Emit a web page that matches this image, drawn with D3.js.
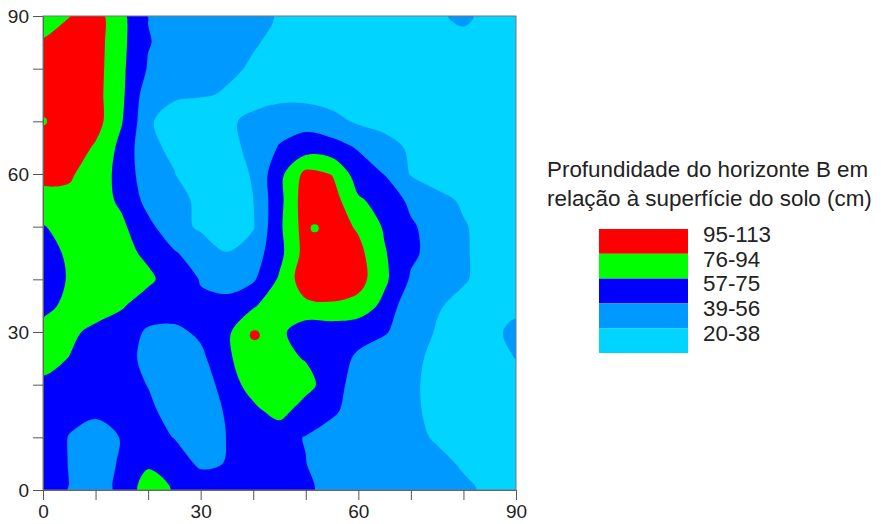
<!DOCTYPE html>
<html>
<head>
<meta charset="utf-8">
<script src="https://cdn.jsdelivr.net/npm/d3@7"></script>
<style>
  body { margin: 0; background: #fff; }
  text { font-family: "Liberation Sans", Arial, sans-serif; fill: #222; }
</style>
</head>
<body>
<svg id="chart" width="881" height="524"></svg>
<script>
// grid positions (m)
var gridX = [0, 5, 10, 15, 20, 25, 30, 35, 40, 45, 50, 55, 60, 65, 70, 75, 80, 85, 90];
var gridY = [90, 85, 80, 75, 70, 65, 60, 55, 50, 45, 40, 35, 30, 25, 20, 15, 10, 5, 0];

// depth of B horizon (cm), one row per gridY
var depthRows = [
  [86, 94, 102.6, 80, 56, 50, 47, 44, 41, 37.8, 33, 30, 28, 28, 30, 36.8, 41, 34.8, 30],
  [96, 103, 102.6, 80, 57.5, 50, 46, 43, 39.5, 36, 32, 28, 26, 25, 25, 28, 34.8, 32, 30],
  [100, 106, 102, 79, 55, 49, 45, 41, 37, 33, 28, 25, 24, 23, 23, 25, 28, 30, 30],
  [102, 107, 101, 79, 46, 43, 40, 37, 33, 34, 33, 31, 24, 22, 22, 23, 25, 28, 30],
  [101, 105, 102.2, 76.5, 42.7, 24, 24, 36, 42, 48, 50, 44, 36, 33, 36, 30, 27, 27, 28],
  [103, 106, 92, 70, 42, 35.5, 28, 33, 43, 58, 66, 64, 55, 45, 36, 30, 27, 26, 27],
  [98, 98, 82, 71.5, 43, 39, 26.5, 30, 40, 70, 100, 93.9, 66, 56, 37.4, 30, 27, 25, 26],
  [90, 88, 84, 72, 50.5, 44, 35, 30, 38.3, 70, 105, 103, 78, 68.4, 52.4, 44, 36, 30, 27],
  [74, 85, 86, 79, 61.2, 44.4, 36, 28, 37, 72, 103, 104, 92, 73.2, 59, 48.6, 40, 32, 27],
  [68, 78.5, 86, 84, 70, 58, 48, 39, 47, 70, 102, 106, 100, 77, 60, 49.4, 40.6, 31.8, 28],
  [66, 77, 86, 88, 81, 62, 56, 47, 54, 78, 106.4, 108, 102, 79.4, 54.4, 47, 40, 33, 29],
  [68, 82, 86, 78, 62.4, 67, 58, 64, 74, 84, 90, 92, 88, 70, 43, 40, 34, 30, 33],
  [84, 80, 70.2, 62, 55, 52, 60, 73, 88, 80, 64, 64, 62, 58, 48, 37, 30, 33, 44],
  [82, 75, 66, 60, 54, 46, 52, 72, 88, 82, 74, 64, 54, 47, 42, 35, 29, 30, 39],
  [72, 68, 66, 63, 56, 48, 47, 64, 85, 88, 84, 62, 51, 45, 41, 34, 28, 28, 30],
  [66, 60, 62, 64, 60, 50, 44, 58.9, 70, 84, 64, 59, 50, 45, 41, 35, 29, 27, 26],
  [64, 56, 44, 58, 62, 56, 44, 57, 64, 60, 56, 50, 46, 44, 42, 37, 30, 26, 25],
  [64, 56, 44, 60, 73, 64, 54, 57, 66, 64, 56.8, 49, 44, 45, 44, 42, 37, 30, 27],
  [62, 56, 46, 62, 85, 74, 66, 64, 66, 64, 60, 50, 40, 45, 44, 43, 41, 36, 30]
];

// classes, lowest first
var bandLabels = ["20-38", "39-56", "57-75", "76-94", "95-113"];
var thresholds = [0, 38.5, 56.5, 75.5, 94.5];

// isolated spots around sample points [x, y, class]
var spots = [[0, 70, "76-94"], [51.7, 49.7, "76-94"], [40.3, 29.4, "95-113"]];

var ticks = [0, 10, 20, 30, 40, 50, 60, 70, 80, 90];
var tickLabels = [0, 30, 60, 90];

var titleLines = ["Profundidade do horizonte B em", "relação à superfície do solo (cm)"];

var bandColors = ["#00d4ff", "#0099ff", "#0000ff", "#00ff00", "#ff0000"];
var color = d3.scaleOrdinal().domain(bandLabels).range(bandColors);

var svg = d3.select("#chart");

var x = d3.scaleLinear().domain([0, 90]).range([43, 516]);
var y = d3.scaleLinear().domain([0, 90]).range([490, 16]);

// contour bands
var values = [].concat.apply([], depthRows);
var contours = d3.contours()
    .size([gridX.length, gridY.length])
    .thresholds(thresholds)(values);

var step = gridX[1] - gridX[0];
function toPx(p) {
    return [x(gridX[0] + (p[0] - 0.5) * step), y(gridY[0] - (p[1] - 0.5) * step)];
}
var ringLine = d3.line().curve(d3.curveCatmullRomClosed.alpha(0.5));

svg.append("clipPath").attr("id", "plot-clip")
    .append("rect")
    .attr("x", x(0)).attr("y", y(90))
    .attr("width", x(90) - x(0)).attr("height", y(0) - y(90));

var map = svg.append("g").attr("clip-path", "url(#plot-clip)");

map.selectAll("path.band")
    .data(contours)
    .enter().append("path")
    .attr("class", "band")
    .attr("fill-rule", "evenodd")
    .attr("fill", (d, i) => color(bandLabels[i]))
    .attr("d", function(c) {
        return c.coordinates.map(function(poly) {
            return poly.map(ring => ringLine(ring.slice(0, -1).map(toPx))).join("");
        }).join("");
    });

map.selectAll("circle.spot")
    .data(spots)
    .enter().append("circle")
    .attr("class", "spot")
    .attr("cx", d => x(d[0]))
    .attr("cy", d => y(d[1]))
    .attr("r", d => d[2] === "95-113" ? 5 : 4)
    .attr("fill", d => color(d[2]));

// frame
svg.append("rect")
    .attr("x", x(0)).attr("y", y(90))
    .attr("width", x(90) - x(0)).attr("height", y(0) - y(90))
    .attr("fill", "none")
    .attr("stroke", "#777");

var fmt = d => tickLabels.indexOf(d) >= 0 ? d : "";

var xAxis = svg.append("g")
    .attr("transform", "translate(0," + y(0) + ")")
    .call(d3.axisBottom(x).tickValues(ticks).tickSize(10).tickSizeOuter(0).tickPadding(5).tickFormat(fmt));

var yAxis = svg.append("g")
    .attr("transform", "translate(" + x(0) + ",0)")
    .call(d3.axisLeft(y).tickValues(ticks).tickSize(10).tickSizeOuter(0).tickPadding(4).tickFormat(fmt));

[xAxis, yAxis].forEach(function(g) {
    g.select(".domain").attr("stroke", "#666");
    g.selectAll(".tick line").attr("stroke", "#555");
    g.selectAll(".tick text")
        .attr("fill", "#222")
        .style("font-family", "'Liberation Sans', Arial, sans-serif")
        .style("font-size", "19px");
});

// legend
var legend = svg.append("g");

legend.selectAll("text.title")
    .data(titleLines)
    .enter().append("text")
    .attr("class", "title")
    .attr("x", 547)
    .attr("y", (d, i) => 177 + i * 28.5)
    .style("font-size", "22.4px")
    .text(d => d);

var legendRows = bandLabels.slice().reverse();
var rowH = 24.8;

legend.selectAll("rect.key")
    .data(legendRows)
    .enter().append("rect")
    .attr("class", "key")
    .attr("x", 599)
    .attr("y", (d, i) => 229 + i * rowH)
    .attr("width", 89)
    .attr("height", rowH)
    .attr("fill", d => color(d));

legend.selectAll("text.key")
    .data(legendRows)
    .enter().append("text")
    .attr("class", "key")
    .attr("x", 703)
    .attr("y", (d, i) => 229 + i * rowH + 12.7)
    .style("font-size", "22.4px")
    .text(d => d);
</script>
</body>
</html>
